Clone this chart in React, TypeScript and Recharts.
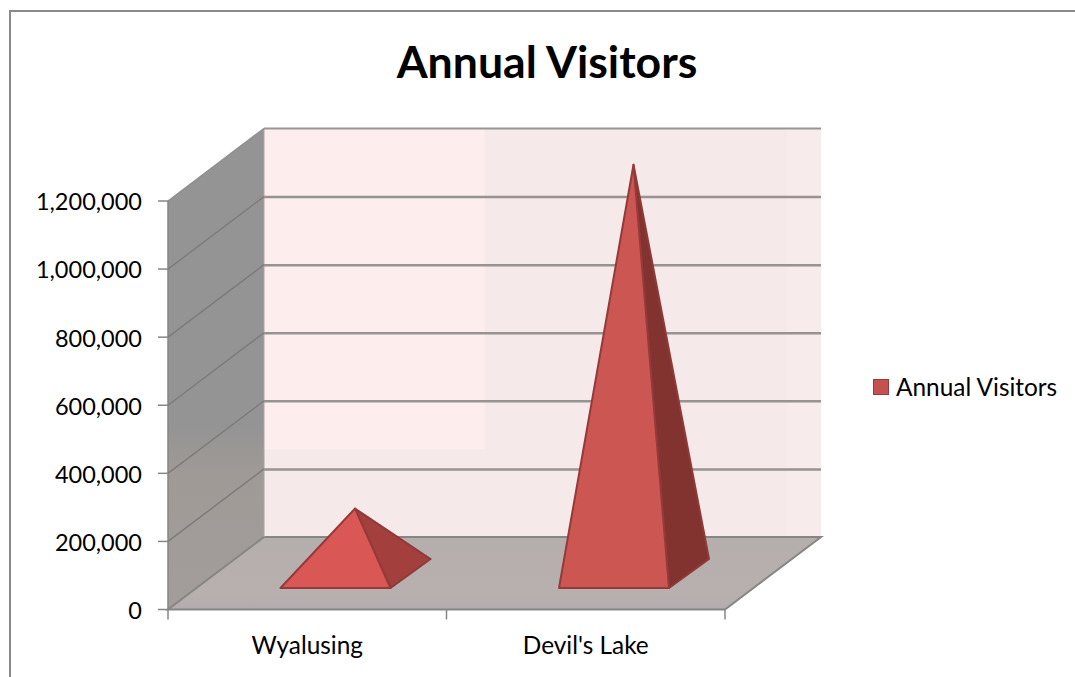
import React from 'react';
import { BarChart, Bar, XAxis, YAxis, ReferenceArea, Legend } from 'recharts';

const categories = ['Wyalusing', "Devil's Lake"];
const annualVisitors = [190000, 1200000];
const yTicks = [0, 200000, 400000, 600000, 800000, 1000000, 1200000];
const gridValues = [200000, 400000, 600000, 800000, 1000000];
const seriesName = 'Annual Visitors';
const chartTitle = 'Annual Visitors';
const data = categories.map((name, i) => ({ name, value: annualVisitors[i] }));

const FONT = 'Lato, sans-serif';
const DX = 96;
const DY = 72.5;
const AXIS = '#868686';

const Walls = (props: any) => {
  const { x, y, width, height } = props;
  const b = y + height;
  const r = x + width;
  const upperR = x + DX + 221;
  const upperB = y - DY + 321;
  return (
    <g>
      <defs>
        <linearGradient id="leftWall" x1="0" y1="0" x2="0" y2="1">
          <stop offset="0" stopColor="#949494" />
          <stop offset="0.62" stopColor="#949494" />
          <stop offset="0.72" stopColor="#a09a97" />
          <stop offset="1" stopColor="#a29d9b" />
        </linearGradient>
        <linearGradient id="floor" x1="0" y1="0" x2="0" y2="1">
          <stop offset="0" stopColor="#b4aeac" />
          <stop offset="0.8" stopColor="#b8b0af" />
          <stop offset="1" stopColor="#b3abae" />
        </linearGradient>
      </defs>
      <rect x={x + DX} y={y - DY} width={width} height={height} fill="#f5e9e9" />
      <rect x={r + DX - 34} y={y - DY} width={34} height={height} fill="#f7ebeb" />
      <rect x={x + DX} y={y - DY} width={upperR - x - DX} height={upperB - y + DY} fill="#fdeeed" />
      <polygon
        points={`${x},${y} ${x + DX},${y - DY} ${x + DX},${b - DY} ${x},${b}`}
        fill="url(#leftWall)"
      />
      <polygon
        points={`${x},${b} ${r},${b} ${r + DX},${b - DY} ${x + DX},${b - DY}`}
        fill="url(#floor)"
        stroke={AXIS}
        strokeWidth={2}
      />
      <line x1={x} y1={y} x2={x} y2={b} stroke={AXIS} strokeWidth={1.5} />
      <line x1={x + DX} y1={y - DY} x2={x + DX} y2={b - DY} stroke="#a8a4a4" strokeWidth={1} />
      <line x1={x} y1={y} x2={x + DX} y2={y - DY} stroke="#8f8f8f" strokeWidth={1.5} />
      <line x1={x + DX} y1={y - DY} x2={r + DX} y2={y - DY} stroke="#999595" strokeWidth={2} />
    </g>
  );
};

const GridLine = (props: any) => {
  const { x, y, width } = props;
  const x2 = x + width;
  return (
    <g fill="none">
      <path d={`M${x},${y} L${x + DX},${y - DY}`} stroke="#7f7b7b" strokeWidth={1.5} />
      <path d={`M${x + DX},${y - DY + 0.5} L${x2 + DX},${y - DY + 0.5}`} stroke="#979393" strokeWidth={2.5} />
    </g>
  );
};

const Pyramid = (props: any) => {
  const { x, y, width, height, index } = props;
  const cx = x + width / 2;
  const bottom = y + height;
  const half = width / 2;
  const apexX = cx + DX / 2;
  const apexY = y - DY / 2;
  const baseY = bottom - 21.5;
  const fl = cx + 28.5 - half;
  const fr = cx + 28.5 + half;
  const backX = fr + 40;
  const backY = baseY - 29;
  const front = index === 0 ? '#d95755' : '#cc5651';
  const side = index === 0 ? '#a3403e' : '#83332f';
  return (
    <g>
      <polygon
        points={`${apexX},${apexY} ${fr},${baseY} ${backX},${backY}`}
        fill={side}
        stroke="#8f3a38"
        strokeWidth={2}
        strokeLinejoin="round"
      />
      <polygon
        points={`${apexX},${apexY} ${fl},${baseY} ${fr},${baseY}`}
        fill={front}
        stroke="#96393a"
        strokeWidth={2}
        strokeLinejoin="round"
      />
    </g>
  );
};

const bandWidth = (725 - 168) / categories.length;

const CategoryTick = (props: any) => {
  const { x, y, payload, index } = props;
  return (
    <g>
      <line x1={x - bandWidth / 2} y1={y - 8} x2={x - bandWidth / 2} y2={y + 2} stroke={AXIS} strokeWidth={1.5} />
      {index === categories.length - 1 && (
        <line x1={x + bandWidth / 2} y1={y - 8} x2={x + bandWidth / 2} y2={y + 2} stroke={AXIS} strokeWidth={1.5} />
      )}
      <text x={x} y={y + 36} textAnchor="middle" fontFamily={FONT} fontSize={24.4} fill="#000">
        {payload.value}
      </text>
    </g>
  );
};

const LegendBox = () => (
  <div style={{ display: 'flex', alignItems: 'center', fontFamily: FONT, fontSize: 24.4, color: '#000', lineHeight: '28px' }}>
    <span
      style={{
        width: 14,
        height: 14,
        background: '#c4504f',
        border: '1.5px solid #963c3a',
        marginRight: 7,
        display: 'inline-block',
      }}
    />
    {seriesName}
  </div>
);

export default function App() {
  return (
    <div style={{ position: 'absolute', left: 0, top: 0, width: 1075, height: 677, background: '#fff', overflow: 'hidden' }}>
      <div
        style={{
          position: 'absolute',
          left: 9,
          top: 10,
          width: 1100,
          height: 700,
          border: '2px solid #8a8a8a',
        }}
      />
      <BarChart
        width={1075}
        height={677}
        data={data}
        margin={{ top: 201, right: 150, bottom: 0, left: 0 }}
        style={{ position: 'absolute', left: 0, top: 0 }}
      >
        <text x={547} y={78} textAnchor="middle" fontFamily={FONT} fontWeight={700} fontSize={44.6} fill="#000">
          {chartTitle}
        </text>
        <ReferenceArea y1={0} y2={1200000} shape={Walls} ifOverflow="visible" />
        {gridValues.map((v) => (
          <ReferenceArea key={v} y1={v} y2={v} shape={GridLine as any} ifOverflow="visible" />
        ))}
        <XAxis
          dataKey="name"
          height={67.5}
          axisLine={false}
          tickLine={false}
          interval={0}
          tick={CategoryTick as any}
        />
        <YAxis
          domain={[0, 1200000]}
          ticks={yTicks}
          width={168}
          axisLine={false}
          tickSize={10}
          tickLine={{ stroke: AXIS, strokeWidth: 1.5 }}
          tickMargin={16}
          tickFormatter={(v: number) => v.toLocaleString('en-US')}
          tick={{ fontFamily: FONT, fontSize: 23.5, fill: '#000', dy: 1 }}
        />
        <Legend
          layout="vertical"
          align="right"
          verticalAlign="top"
          wrapperStyle={{ left: 873, top: 373, width: 200 }}
          content={LegendBox as any}
        />
        <Bar dataKey="value" name={seriesName} barSize={110} shape={Pyramid as any} isAnimationActive={false} />
      </BarChart>
    </div>
  );
}
